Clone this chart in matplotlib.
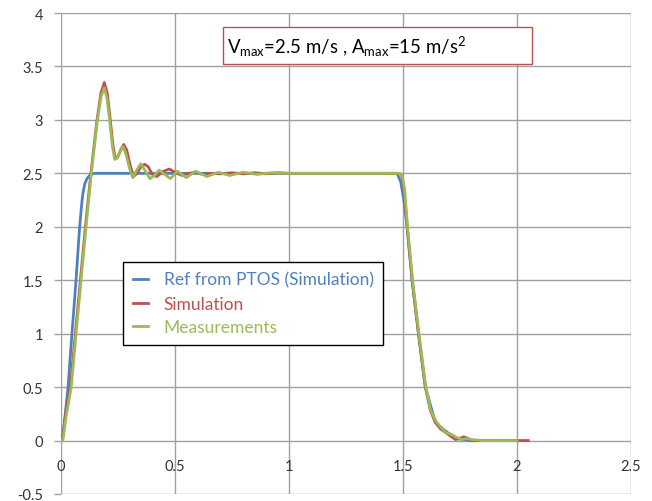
import matplotlib.pyplot as plt
from matplotlib.patches import Rectangle

plt.rcParams['font.family'] = ['Lato', 'DejaVu Sans']
plt.rcParams['mathtext.fontset'] = 'custom'
plt.rcParams['mathtext.rm'] = 'Lato'
plt.rcParams['mathtext.default'] = 'regular'

# Ref from PTOS (simulation)
t_ref = [0, 0.004, 0.015, 0.031, 0.048, 0.066, 0.080, 0.088, 0.095, 0.104, 0.114,
         0.125, 0.143, 0.2, 0.5, 1.0, 1.45, 1.474, 1.49, 1.503, 1.518, 1.54, 1.568,
         1.598, 1.642, 1.68, 1.73, 1.8, 2.0]
v_ref = [0, 0, 0.17, 0.5, 1.0, 1.5, 1.95, 2.15, 2.3, 2.4, 2.45,
         2.48, 2.5, 2.5, 2.5, 2.5, 2.5, 2.5, 2.42, 2.26, 2.0, 1.5, 1.0,
         0.5, 0.17, 0.1, 0.02, 0.0, 0.0]

# Simulation
t_sim = [0, 0.006, 0.02, 0.041, 0.063, 0.085, 0.107, 0.131, 0.158, 0.175, 0.190,
         0.203, 0.215, 0.228, 0.238, 0.248, 0.262, 0.275, 0.288, 0.303, 0.318,
         0.333, 0.350, 0.367, 0.383, 0.40, 0.42, 0.45, 0.475, 0.50, 0.53, 0.56,
         0.59, 0.62, 0.65, 0.70, 0.75, 0.80, 0.85, 0.90, 0.95, 1.0, 1.1, 1.2,
         1.3, 1.4, 1.48, 1.493, 1.505, 1.518, 1.54, 1.568, 1.598, 1.62, 1.642,
         1.664, 1.69, 1.71, 1.73, 1.75, 1.766, 1.785, 1.80, 1.85, 1.9, 2.0, 2.05]
v_sim = [0, 0, 0.25, 0.5, 1.0, 1.5, 2.0, 2.5, 3.0, 3.25, 3.35,
         3.25, 3.02, 2.76, 2.64, 2.65, 2.72, 2.77, 2.72, 2.58, 2.47,
         2.5, 2.56, 2.585, 2.56, 2.49, 2.47, 2.52, 2.54, 2.51, 2.48, 2.5,
         2.51, 2.49, 2.5, 2.495, 2.505, 2.495, 2.505, 2.495, 2.505, 2.5, 2.5, 2.5,
         2.5, 2.5, 2.5, 2.49, 2.35, 2.0, 1.5, 1.0, 0.5, 0.28, 0.17,
         0.11, 0.07, 0.04, 0.01, 0.02, 0.035, 0.02, 0.0, 0.0, 0.0, 0.0, 0.0]

# Measurements
t_meas = [0, 0.008, 0.022, 0.045, 0.066, 0.088, 0.110, 0.133, 0.160, 0.176, 0.190,
          0.202, 0.214, 0.226, 0.236, 0.246, 0.259, 0.272, 0.285, 0.300, 0.315,
          0.332, 0.350, 0.368, 0.39, 0.41, 0.43, 0.455, 0.48, 0.51, 0.55, 0.59,
          0.64, 0.69, 0.74, 0.80, 0.86, 0.92, 1.0, 1.1, 1.2, 1.3, 1.4, 1.48,
          1.495, 1.507, 1.52, 1.542, 1.57, 1.60, 1.622, 1.645, 1.668, 1.69, 1.71,
          1.735, 1.76, 1.78, 1.80, 1.85, 1.9, 1.95, 2.0]
v_meas = [0, 0, 0.22, 0.5, 1.0, 1.5, 2.0, 2.5, 3.0, 3.22, 3.30,
          3.2, 2.98, 2.74, 2.63, 2.64, 2.7, 2.75, 2.68, 2.55, 2.46,
          2.53, 2.59, 2.53, 2.45, 2.48, 2.53, 2.49, 2.45, 2.52, 2.46, 2.52,
          2.47, 2.51, 2.48, 2.51, 2.49, 2.505, 2.5, 2.5, 2.5, 2.5, 2.5, 2.5,
          2.49, 2.35, 2.0, 1.5, 1.0, 0.5, 0.28, 0.18, 0.12, 0.07, 0.06,
          0.03, 0.01, 0.02, 0.01, 0.0, 0.0, 0.0, 0.0]

x_ticks = [0, 0.5, 1, 1.5, 2, 2.5]
y_ticks = [-0.5, 0, 0.5, 1, 1.5, 2, 2.5, 3, 3.5, 4]

fig = plt.figure(figsize=(6.52, 5.02), dpi=100)
ax = fig.add_axes([61/652, 7/502, 570/652, 481/502])

ax.plot(t_ref, v_ref, color='#4F81BD', lw=2, label='Ref from PTOS (Simulation)')
ax.plot(t_sim, v_sim, color='#C0504D', lw=2, label='Simulation')
ax.plot(t_meas, v_meas, color='#9BBB59', lw=2, label='Measurements')

ax.set_xlim(0, 2.5)
ax.set_ylim(-0.5, 4)
ax.set_xticks(x_ticks)
ax.set_yticks(y_ticks)
ax.set_xticklabels(['0', '0.5', '1', '1.5', '2', '2.5'])
ax.set_yticklabels(['-0.5', '0', '0.5', '1', '1.5', '2', '2.5', '3', '3.5', '4'])
ax.grid(True, color='#a0a0a0', lw=1)
ax.set_axisbelow(True)
for s in ax.spines.values():
    s.set_visible(False)
ax.spines['bottom'].set_position(('data', 0))
ax.tick_params(axis='x', length=0, pad=13.5, labelsize=10.5, labelcolor='#333333')
ax.tick_params(axis='y', length=5, width=1, color='#a0a0a0', pad=8,
               labelsize=10.5, labelcolor='#333333')

leg = ax.legend(loc='upper left', bbox_to_anchor=(0.1088, 0.482), borderaxespad=0,
                fontsize=12.5, handlelength=0.9, handletextpad=0.9, labelspacing=0.45,
                fancybox=False, framealpha=1, edgecolor='black', borderpad=0.55)
leg.get_frame().set_linewidth(1)
for txt, c in zip(leg.get_texts(), ['#4F81BD', '#C0504D', '#9BBB59']):
    txt.set_color(c)

# annotation box
ax.add_patch(Rectangle((0.284, 0.894), 0.542, 0.077, transform=ax.transAxes,
                       facecolor='white', edgecolor='#C0504D', lw=1, zorder=5))
ax.text(0.291, 0.9325, r'V$_{max}$=2.5 m/s , A$_{max}$=15 m/s$^{2}$',
        transform=ax.transAxes, fontsize=13.4, va='center', ha='left', zorder=6)

plt.savefig('out.png', dpi=100)
